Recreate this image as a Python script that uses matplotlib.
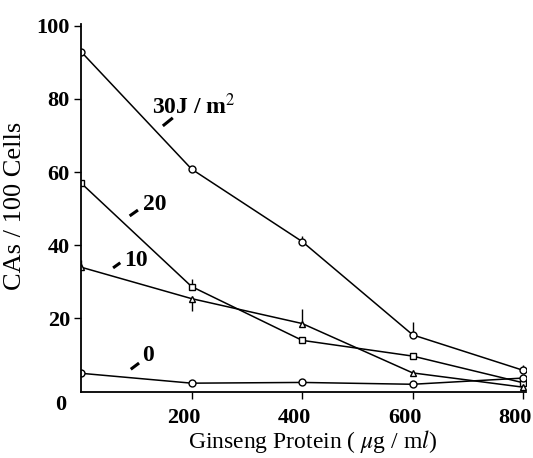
import matplotlib.pyplot as plt
from matplotlib.transforms import ScaledTranslation

plt.rcParams['font.family'] = ['Liberation Serif', 'DejaVu Serif']
plt.rcParams['mathtext.fontset'] = 'stix'

dose = [0, 200, 400, 600, 800]
uv30 = [92.9, 60.8, 41.0, 15.5, 5.8]
uv20 = [57.0, 28.7, 14.0, 9.7, 2.4]
uv10 = [34.0, 25.4, 18.6, 5.1, 1.2]
uv0 = [5.0, 2.3, 2.5, 2.0, 3.7]

# one-sided error bars (down, up)
err30 = [[0, 0, 0, 0, 0], [0.8, 0.8, 1.6, 3.5, 1.5]]
err20 = [[0, 0, 0, 0, 0], [0.8, 2.0, 0, 0.8, 0.8]]
err10 = [[0, 3.3, 0, 0, 0], [2.0, 0, 4.0, 0, 0]]
err0 = [[0, 0, 0, 0, 0], [0.5, 0, 0.5, 0, 0]]

fig = plt.figure(figsize=(5.33, 4.58), dpi=100)
ax = fig.add_axes([0.152, 0.145, 0.835, 0.803])

series = [(uv30, err30, 'o'), (uv20, err20, 's'), (uv10, err10, '^'), (uv0, err0, 'o')]
for vals, err, m in series:
    ax.errorbar(dose, vals, yerr=err, color='black', lw=1.1, marker=m,
                ms=5 if m != '^' else 4, mfc='white', mec='black', mew=1.0,
                capsize=0, elinewidth=1.0)

ax.set_xlim(0, 805)
ax.set_ylim(0, 100.5)
ax.spines['top'].set_visible(False)
ax.spines['right'].set_visible(False)
ax.spines['left'].set_linewidth(1.3)
ax.spines['bottom'].set_linewidth(1.3)
ax.set_xticks([200, 400, 600, 800])
ax.set_yticks([20, 40, 60, 80, 100])
ax.tick_params(direction='out', length=5, width=1, labelsize=16)
ax.tick_params(axis='x', pad=7)
ax.tick_params(axis='y', pad=3)
shift = ScaledTranslation(-8 / 100, 0, fig.dpi_scale_trans)
for lab in ax.get_xticklabels():
    lab.set_fontweight('bold')
    lab.set_transform(lab.get_transform() + shift)
for lab in ax.get_yticklabels():
    lab.set_fontweight('bold')
ax.text(-0.045, -0.036, '0', transform=ax.transAxes, fontsize=16,
        fontweight='bold', ha='center', va='center')

ax.set_ylabel('CAs / 100 Cells', fontsize=19)
ax.yaxis.set_label_coords(-0.124, 0.505)
ax.set_xlabel('Ginseng Protein ( $\\mu$g / m$\\mathit{l}$)', fontsize=17)
ax.xaxis.set_label_coords(0.52, -0.10)

# curve labels with short leader dashes
labels = [('30J / m$^{2}$', 204, 78.0, 148, 72.6, 166, 74.8),
          ('20', 133, 51.0, 88, 48.0, 103, 49.6),
          ('10', 99, 35.8, 58, 33.8, 71, 35.2),
          ('0', 121, 9.9, 90, 6.1, 105, 7.8)]
for txt, tx, ty, x1, y1, x2, y2 in labels:
    ax.text(tx, ty, txt, fontsize=17, fontweight='bold', ha='center', va='center')
    ax.plot([x1, x2], [y1, y2], color='black', lw=2.2, solid_capstyle='butt')

fig.savefig('out.png', dpi=100)
